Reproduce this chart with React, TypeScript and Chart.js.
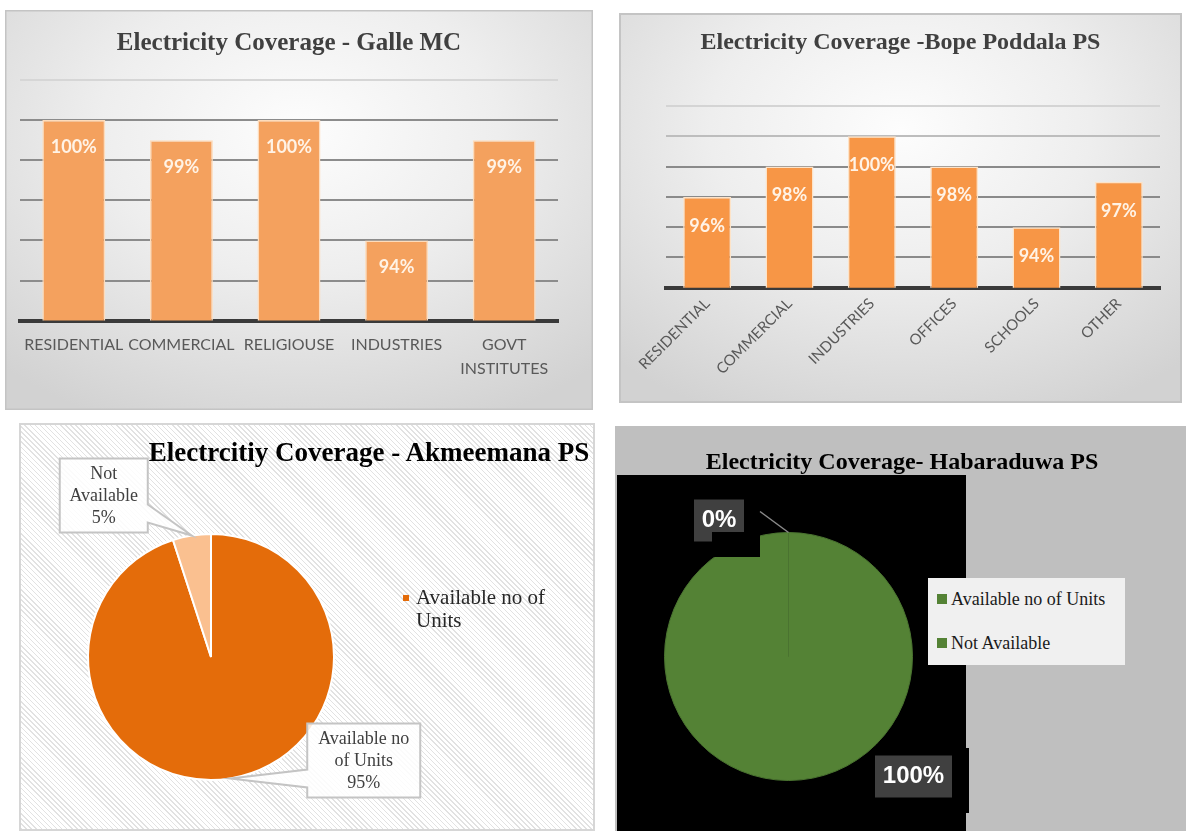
import React, { useEffect, useRef } from 'react';
import { Chart, registerables } from 'chart.js';

Chart.register(...registerables);

// ---------- DATA ----------
const galleCategories: (string | string[])[] = ['RESIDENTIAL', 'COMMERCIAL', 'RELIGIOUSE', 'INDUSTRIES', ['GOVT', 'INSTITUTES']];
const galleCoverage = [100, 99, 100, 94, 99];

const bopeCategories = ['RESIDENTIAL', 'COMMERCIAL', 'INDUSTRIES', 'OFFICES', 'SCHOOLS', 'OTHER'];
const bopeCoverage = [96, 98, 100, 98, 94, 97];

const coverageAxisMin = 90;
const coverageAxisMax = 102;
const coverageAxisStep = 2;

const akmeemanaLabels = ['Available no of Units', 'Not Available'];
const akmeemanaShares = [95, 5];
const akmeemanaCalloutText = [['Available no', 'of Units'], ['Not', 'Available']];
const akmeemanaLegendLines = ['Available no of', 'Units'];

const habaraduwaLabels = ['Available no of Units', 'Not Available'];
const habaraduwaShares = [100, 0];

// ---------- PLUGINS ----------
const barValueLabels = {
  id: 'barValueLabels',
  afterDatasetsDraw(chart: any, _a: any, opts: any) {
    const meta = chart.getDatasetMeta(0);
    const data = chart.data.datasets[0].data;
    const ctx = chart.ctx;
    ctx.save();
    ctx.font = opts.font;
    ctx.fillStyle = opts.color;
    ctx.textAlign = 'center';
    ctx.textBaseline = 'middle';
    meta.data.forEach((bar: any, i: number) => {
      ctx.fillText(`${data[i]}%`, bar.x, bar.y + opts.offset);
    });
    ctx.restore();
  },
};

const clamp = (v: number, lo: number, hi: number) => Math.max(lo, Math.min(hi, v));

const pieCallouts = {
  id: 'pieCallouts',
  afterDatasetsDraw(chart: any, _a: any, opts: any) {
    const items = (opts && opts.items) || [];
    const meta = chart.getDatasetMeta(0);
    const data = chart.data.datasets[0].data;
    const ctx = chart.ctx;
    items.forEach((it: any, i: number) => {
      const arc: any = meta.data[i];
      if (!arc) return;
      const mid = (arc.startAngle + arc.endAngle) / 2;
      const ax = arc.x + Math.cos(mid) * arc.outerRadius;
      const ay = arc.y + Math.sin(mid) * arc.outerRadius;
      const cx = ax + it.dx;
      const cy = ay + it.dy;
      const l = cx - it.w / 2, t = cy - it.h / 2, r = l + it.w, b = t + it.h;
      ctx.save();
      ctx.lineWidth = it.strokeWidth || 0;
      ctx.strokeStyle = it.stroke || 'transparent';
      ctx.fillStyle = it.fill;
      const half = 9;
      let pts: number[][];
      if (it.pointer === 'wedge') {
        if (ax > r) {
          const y = clamp(ay, t + 10 + half, b - 10 - half);
          pts = [[l, t], [r, t], [r, y - half], [ax, ay], [r, y + half], [r, b], [l, b]];
        } else if (ax < l) {
          const y = clamp(ay, t + 10 + half, b - 10 - half);
          pts = [[l, t], [r, t], [r, b], [l, b], [l, y + half], [ax, ay], [l, y - half]];
        } else if (ay > b) {
          const x = clamp(ax, l + 10 + half, r - 10 - half);
          pts = [[l, t], [r, t], [r, b], [x + half, b], [ax, ay], [x - half, b], [l, b]];
        } else {
          const x = clamp(ax, l + 10 + half, r - 10 - half);
          pts = [[l, t], [x - half, t], [ax, ay], [x + half, t], [r, t], [r, b], [l, b]];
        }
      } else {
        pts = [[l, t], [r, t], [r, b], [l, b]];
      }
      ctx.beginPath();
      pts.forEach((p, k) => (k === 0 ? ctx.moveTo(p[0], p[1]) : ctx.lineTo(p[0], p[1])));
      ctx.closePath();
      ctx.fill();
      if (it.strokeWidth) ctx.stroke();
      if (it.pointer === 'line') {
        ctx.beginPath();
        ctx.strokeStyle = it.lineColor;
        ctx.lineWidth = 1.5;
        ctx.moveTo(cx + it.lineFrom[0], cy + it.lineFrom[1]);
        ctx.lineTo(ax, ay);
        ctx.stroke();
      }
      const lines = (it.lines || []).concat([`${data[i]}%`]);
      ctx.font = it.font;
      ctx.fillStyle = it.color;
      ctx.textAlign = 'center';
      ctx.textBaseline = 'middle';
      lines.forEach((txt: string, k: number) => {
        ctx.fillText(txt, cx, cy + (k - (lines.length - 1) / 2) * it.lineHeight + (it.textDy || 0));
      });
      ctx.restore();
    });
  },
};

// ---------- COMPONENTS ----------
function BarPanel(s: any) {
  const ref = useRef<HTMLCanvasElement>(null);
  useEffect(() => {
    const chart = new Chart(ref.current as HTMLCanvasElement, {
      type: 'bar',
      data: {
        labels: s.labels,
        datasets: [
          {
            data: s.values,
            backgroundColor: s.barColor,
            borderColor: s.barBorder,
            borderWidth: 1.5,
            barPercentage: s.barPct,
            categoryPercentage: 1,
          },
        ],
      },
      options: {
        responsive: false,
        animation: false,
        devicePixelRatio: 1,
        layout: { padding: s.pad },
        plugins: {
          legend: { display: false },
          tooltip: { enabled: false },
          title: {
            display: true,
            text: s.title,
            color: '#404040',
            font: { family: 'Liberation Serif', size: s.titleSize, weight: 'bold', lineHeight: 1.2 },
            padding: s.titlePad,
          },
          barValueLabels: { font: s.valueFont, color: '#FFF3E6', offset: s.valueOffset },
        } as any,
        scales: {
          x: {
            z: 1,
            grid: { display: false, drawTicks: false },
            border: { display: true, color: '#3a3a3a', width: 4 },
            ticks: {
              color: '#595959',
              font: { family: 'Lato', size: s.tickFont, lineHeight: s.tickLineHeight },
              padding: s.tickPadding,
              autoSkip: false,
              minRotation: s.rotation,
              maxRotation: s.rotation,
            },
          },
          y: {
            min: coverageAxisMin,
            max: coverageAxisMax,
            afterFit: (sc: any) => {
              sc.width = s.yWidth;
            },
            ticks: { display: false, stepSize: coverageAxisStep },
            border: { display: false },
            grid: {
              drawTicks: false,
              lineWidth: 2,
              color: (c: any) => {
                const v = c.tick ? c.tick.value : null;
                return s.gridColors[v] !== undefined ? s.gridColors[v] : s.gridDefault;
              },
            },
          },
        } as any,
      },
      plugins: [barValueLabels as any],
    });
    return () => chart.destroy();
  }, []);
  return (
    <canvas
      ref={ref}
      width={s.width}
      height={s.height}
      style={{ position: 'absolute', left: 0, top: 0, width: s.width, height: s.height }}
    />
  );
}

function PiePanel(s: any) {
  const ref = useRef<HTMLCanvasElement>(null);
  useEffect(() => {
    const chart = new Chart(ref.current as HTMLCanvasElement, {
      type: 'pie',
      data: {
        labels: s.labels,
        datasets: [
          {
            data: s.values,
            backgroundColor: s.colors,
            borderColor: s.borderColor,
            borderWidth: s.borderWidth,
          },
        ],
      },
      options: {
        responsive: false,
        animation: false,
        devicePixelRatio: 1,
        layout: { padding: s.pad },
        plugins: {
          legend: { display: false },
          tooltip: { enabled: false },
          pieCallouts: { items: s.callouts },
        } as any,
      },
      plugins: [pieCallouts as any],
    });
    return () => chart.destroy();
  }, []);
  return (
    <canvas
      ref={ref}
      width={s.width}
      height={s.height}
      style={{ position: 'absolute', left: 0, top: 0, width: s.width, height: s.height }}
    />
  );
}

const abs = (left: number, top: number, width: number, height: number, extra: any = {}) => ({
  position: 'absolute' as const,
  left,
  top,
  width,
  height,
  ...extra,
});

export default function App() {
  const serif = '"Liberation Serif", "Times New Roman", serif';
  const barBg =
    'radial-gradient(ellipse 75% 80% at 50% 30%, #fdfdfd 0%, #eeeeee 45%, #d2d2d2 100%)';
  return (
    <div style={abs(0, 0, 1186, 831, { background: '#ffffff', overflow: 'hidden' })}>
      {/* Panel 1: Galle MC */}
      <div style={abs(5, 10, 588, 400, { background: barBg, boxShadow: 'inset 0 0 0 1.5px #c4c4c4' })}>
        <BarPanel
          width={588}
          height={400}
          labels={galleCategories}
          values={galleCoverage}
          title="Electricity Coverage - Galle MC"
          titleSize={25}
          titlePad={{ top: 19, bottom: 21 }}
          pad={{ left: 15, right: 35, top: 0, bottom: 17 }}
          yWidth={0}
          tickFont={16}
          tickLineHeight={1.45}
          tickPadding={13}
          rotation={0}
          barColor="#F4A15E"
          barBorder="#FDDCBC"
          barPct={0.585}
          gridColors={{ 102: '#d6d6d6', 90: 'rgba(0,0,0,0)' }}
          gridDefault="#8c8c8c"
          valueFont='bold 18px "Lato"'
          valueOffset={27}
        />
      </div>

      {/* Panel 2: Bope Poddala PS */}
      <div style={abs(619, 13, 563, 390, { background: barBg, boxShadow: 'inset 0 0 0 2px #c4c4c4' })}>
        <BarPanel
          width={563}
          height={390}
          labels={bopeCategories}
          values={bopeCoverage}
          title="Electricity Coverage -Bope Poddala PS"
          titleSize={24}
          titlePad={{ top: 15.6, bottom: 48.6 }}
          pad={{ left: 22, right: 22, top: 0, bottom: 18 }}
          yWidth={25}
          tickFont={15}
          tickLineHeight={1.2}
          tickPadding={7}
          rotation={45}
          barColor="#F79646"
          barBorder="#FDE3C8"
          barPct={0.583}
          gridColors={{ 102: '#d4d4d4', 100: '#bdbdbd', 90: 'rgba(0,0,0,0)' }}
          gridDefault="#8a8a8a"
          valueFont='bold 18px "Lato"'
          valueOffset={29}
        />
      </div>

      {/* Panel 3: Akmeemana PS */}
      <div
        style={abs(19, 423, 576, 408, {
          background:
            'repeating-linear-gradient(45deg, #ffffff 0px, #ffffff 2.6px, #e2e2e2 2.6px, #e2e2e2 3.6px)',
          boxShadow: 'inset 0 0 0 2px #d6d6d6',
        })}
      >
        <PiePanel
          width={576}
          height={408}
          labels={akmeemanaLabels}
          values={akmeemanaShares}
          colors={['#E46C0A', '#FAC090']}
          borderColor="#ffffff"
          borderWidth={2}
          pad={{ left: 68, top: 110, right: 260, bottom: 50 }}
          callouts={[
            {
              dx: 133.5, dy: -18, w: 113, h: 74, lines: akmeemanaCalloutText[0], pointer: 'wedge',
              fill: 'rgba(255,255,255,0.85)', stroke: '#c4c4c4', strokeWidth: 2,
              font: `18px ${serif}`, color: '#404040', lineHeight: 22, textDy: 1,
            },
            {
              dx: -88, dy: -40, w: 88, h: 74, lines: akmeemanaCalloutText[1], pointer: 'wedge',
              fill: 'rgba(255,255,255,0.85)', stroke: '#c4c4c4', strokeWidth: 2,
              font: `18px ${serif}`, color: '#404040', lineHeight: 22, textDy: 1,
            },
          ]}
        />
      </div>
      <div
        style={abs(69, 439, 600, 30, {
          fontFamily: serif, fontWeight: 'bold', fontSize: 27, lineHeight: '27px',
          color: '#000', textAlign: 'center', whiteSpace: 'nowrap',
        })}
      >
        Electrcitiy Coverage - Akmeemana PS
      </div>
      <div style={abs(403, 595, 6, 6, { background: '#E46C0A' })} />
      <div
        style={abs(416, 586, 170, 50, {
          fontFamily: serif, fontSize: 21, lineHeight: '23px', color: '#262626', whiteSpace: 'nowrap',
        })}
      >
        {akmeemanaLegendLines[0]}
        <br />
        {akmeemanaLegendLines[1]}
      </div>

      {/* Panel 4: Habaraduwa PS */}
      <div style={abs(615, 426, 571, 405, { background: '#BFBFBF' })}>
        <div style={abs(2, 49, 349, 356, { background: '#000' })} />
        <div style={abs(259, 322, 95, 65, { background: '#000' })} />
        <PiePanel
          width={571}
          height={405}
          labels={habaraduwaLabels}
          values={habaraduwaShares}
          colors={['#548235', '#548235']}
          borderColor="#4a7330"
          borderWidth={1}
          pad={{ left: 49, top: 106, right: 273, bottom: 50 }}
          callouts={[
            {
              dx: 125, dy: -4, w: 77, h: 42, lines: [], pointer: 'none',
              fill: '#404040', font: 'bold 24px "Liberation Sans"', color: '#ffffff', lineHeight: 26,
            },
            {
              dx: -69.5, dy: -12, w: 50, h: 42, lines: [], pointer: 'line', lineFrom: [41, -9],
              lineColor: '#8a8a8a', fill: '#404040', font: 'bold 24px "Liberation Sans"', color: '#ffffff',
              lineHeight: 26,
            },
          ]}
        />
        <div style={abs(97, 106, 48, 25, { background: '#000' })} />
      </div>
      <div
        style={abs(602, 449, 600, 28, {
          fontFamily: serif, fontWeight: 'bold', fontSize: 24, lineHeight: '24px',
          color: '#000', textAlign: 'center', whiteSpace: 'nowrap',
        })}
      >
        Electricity Coverage- Habaraduwa PS
      </div>
      <div style={abs(928, 578, 197, 87, { background: '#F0F0F0' })} />
      <div style={abs(937, 594, 10, 10, { background: '#548235' })} />
      <div
        style={abs(951, 588.5, 170, 20, {
          fontFamily: serif, fontSize: 18, lineHeight: '20px', color: '#1a1a1a', whiteSpace: 'nowrap',
        })}
      >
        {habaraduwaLabels[0]}
      </div>
      <div style={abs(937, 638, 10, 10, { background: '#548235' })} />
      <div
        style={abs(951, 632.5, 170, 20, {
          fontFamily: serif, fontSize: 18, lineHeight: '20px', color: '#1a1a1a', whiteSpace: 'nowrap',
        })}
      >
        {habaraduwaLabels[1]}
      </div>
    </div>
  );
}
